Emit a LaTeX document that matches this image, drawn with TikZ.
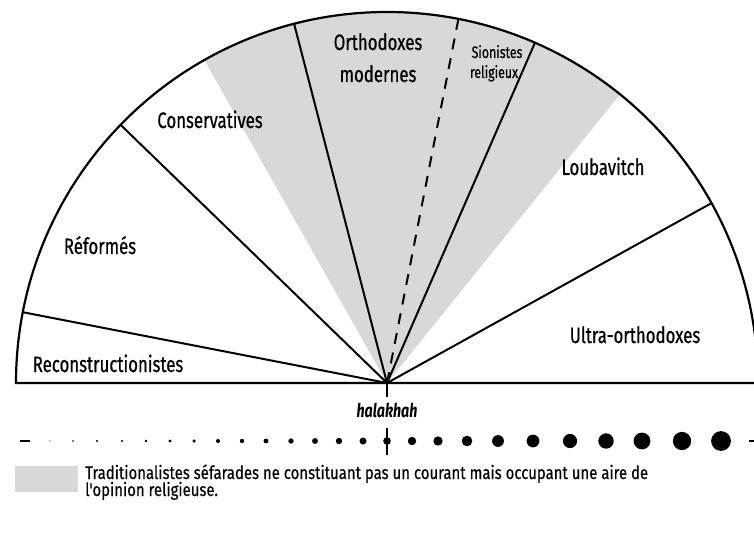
\documentclass[tikz,border=0pt]{standalone}
\usepackage{fontspec}
\setmainfont{Fira Sans}[FakeStretch=0.75]
\newfontfamily\lblfont{Fira Sans}[FakeStretch=0.75, FakeBold=0.6]
\newfontfamily\legfont{Fira Sans}[FakeStretch=0.82, FakeBold=0.4]
\definecolor{wedgegray}{RGB}{216,216,216}
\tikzset{
  spoke/.style={line width=2pt},
  rim/.style={line width=2.2pt},
  lbl/.style={anchor=base, inner sep=0pt, font=\lblfont\fontsize{22.4}{26}\selectfont},
  smalllbl/.style={anchor=base, inner sep=0pt, font=\lblfont\fontsize{16.5}{19}\selectfont},
  legendtxt/.style={anchor=base west, inner sep=0pt, font=\legfont\fontsize{18.2}{20}\selectfont},
  dotnode/.style={circle, fill=black, inner sep=0pt}
}
\begin{document}
\begin{tikzpicture}[x=1pt,y=1pt]
\useasboundingbox (0,0) rectangle (754,533);
\clip (0,0) rectangle (754,533);
\def\R{371}
\coordinate (C) at (387,150);
% gray wedge
\fill[wedgegray] (C) -- ++(51.1:\R) arc[start angle=51.1,end angle=119.5,radius=\R] -- cycle;
% arc points
\path (C) ++(169:\R) coordinate (a1);
\path (C) ++(135.9:\R) coordinate (a2);
\path (C) ++(104.5:\R) coordinate (a3);
\path (C) ++(78.9:\R) coordinate (a4);
\path (C) ++(66.5:\R) coordinate (a5);
\path (C) ++(29:\R) coordinate (a6);
% spokes
\draw[spoke] (C) -- (a1);
\draw[spoke] (C) -- (a2);
\draw[spoke] (C) -- (a3);
\draw[spoke, dash pattern=on 11pt off 9pt] (C) -- (a4);
\draw[spoke] (C) -- (a5);
\draw[spoke] (C) -- (a6);
% semicircle
\draw[rim, line join=miter] (C) ++(0:\R) arc[start angle=0,end angle=180,radius=\R] -- cycle;
% labels
\node[lbl] (recon) at (108,161) {Reconstructionistes};
\node[lbl] (reform) at (100,279) {Réformés};
\node[lbl] (conserv) at (210,405) {Conservatives};
\node[lbl] (ortho1) at (378,483) {Orthodoxes};
\node[lbl] (ortho2) at (378,451) {modernes};
\node[smalllbl] (sion1) at (497,475) {Sionistes};
\node[smalllbl] (sion2) at (494,455) {religieux};
\node[lbl] (loub) at (603,358) {Loubavitch};
\node[lbl] (ultra) at (635,190) {Ultra-orthodoxes};
% halakhah axis
\coordinate (t1) at (387,136);
\draw[spoke] (C) -- (t1);
\node[anchor=base, inner sep=0pt, font=\fontsize{19}{21}\selectfont\bfseries\itshape] (hal) at (387,116) {halakhah};
\coordinate (t2) at (387,105);
\coordinate (t3) at (387,78);
\draw[spoke] (t2) -- (t3);
% dots row
\coordinate (dl1) at (20,92);
\coordinate (dl2) at (30,92);
\draw[line width=2pt] (dl1) -- (dl2);
\coordinate (dr1) at (749,92);
\coordinate (dr2) at (756,92);
\draw[line width=2pt] (dr1) -- (dr2);
\foreach \x/\d [count=\i] in {50/1.4,73/1.8,97/2.1,122/2.4,146/2.8,170/3.1,194/3.5,218/4,242/4.4,266/4.9,291/5.4,315/5.9,339/6.4,363/7,387/7.6,412/8.4,438/9.3,467/10.6,498/11.8,533/12.8,570/14.2,606/15.4,642/16.8,682/18.3,721/19.8}
  \node[dotnode, minimum size=\d pt] (dot\i) at (\x,92) {};
% legend
\fill[wedgegray] (15,41) rectangle (78,67);
\node[legendtxt] (leg1) at (85,54) {Traditionalistes séfarades ne constituant pas un courant mais occupant une aire de};
\node[legendtxt] (leg2) at (85,37) {l'opinion religieuse.};
\end{tikzpicture}
\end{document}
